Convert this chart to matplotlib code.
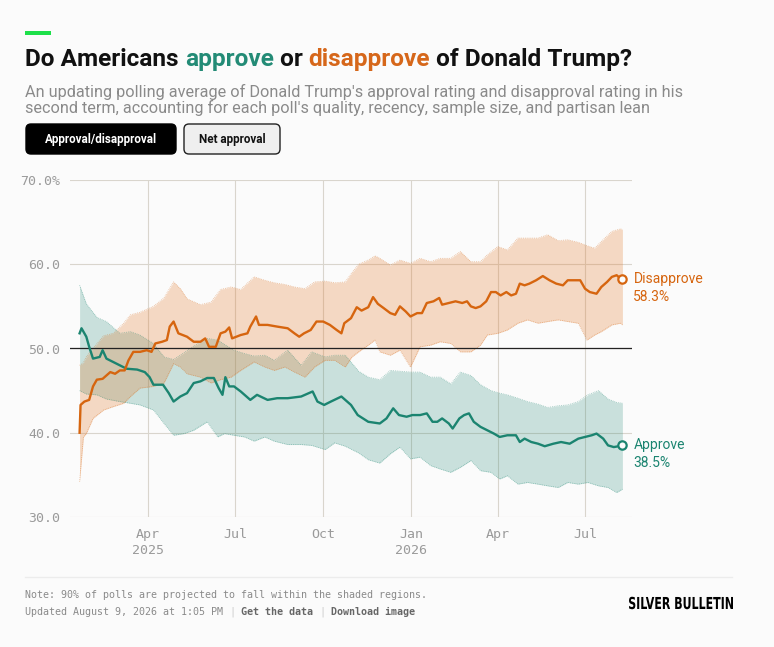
import matplotlib
matplotlib.use('Agg')
import matplotlib.pyplot as plt
from matplotlib.patches import FancyBboxPatch, PathPatch
from matplotlib.textpath import TextPath
from matplotlib.font_manager import FontProperties
from matplotlib.transforms import Affine2D
import pandas as pd

# ---- data (days since 2025-01-20) ----
start = pd.Timestamp('2025-01-20')

approve_days = [0, 2, 7, 10, 14, 21, 24, 28, 35, 42, 49, 60, 68, 73, 77, 87, 93, 98, 105, 112,
                119, 126, 133, 140, 145, 149, 152, 156, 161, 168, 178, 185, 196, 206, 217, 231,
                243, 248, 255, 262, 273, 283, 290, 301, 313, 320, 327, 333, 341, 347, 355, 362,
                368, 373, 378, 385, 389, 396, 401, 406, 411, 418, 425, 432, 438, 446, 455, 459,
                464, 471, 478, 485, 494, 502, 511, 520, 527, 534, 539, 546, 551, 557, 562, 566]
approve = [51.8, 52.4, 51.4, 50.2, 48.8, 49.0, 49.8, 48.8, 48.4, 48.0, 47.6, 47.5, 47.2, 46.6,
           45.7, 45.7, 44.7, 43.7, 44.3, 44.7, 45.9, 46.1, 46.5, 46.5, 45.3, 44.5, 46.6, 45.5,
           45.5, 44.9, 43.9, 44.5, 43.9, 44.1, 44.1, 44.3, 44.9, 43.7, 43.3, 43.7, 44.3, 43.3,
           42.1, 41.3, 41.1, 41.7, 42.9, 42.1, 41.9, 42.1, 42.1, 42.3, 41.3, 41.3, 41.7, 41.1,
           40.5, 41.7, 42.1, 42.3, 41.3, 40.7, 40.3, 39.9, 39.5, 39.7, 39.7, 38.9, 39.3, 38.9,
           38.7, 38.4, 38.7, 38.9, 38.7, 39.3, 39.5, 39.7, 39.9, 39.3, 38.5, 38.3, 38.4, 38.5]

disapprove_days = [0, 1, 5, 10, 14, 18, 24, 32, 37, 42, 47, 51, 56, 63, 70, 75, 79, 86, 91, 94,
                   98, 103, 112, 119, 126, 131, 135, 142, 147, 152, 156, 159, 168, 175, 178, 184,
                   187, 196, 206, 217, 224, 229, 234, 241, 247, 254, 261, 268, 273, 276, 283, 289,
                   294, 301, 306, 311, 317, 324, 329, 334, 340, 345, 352, 357, 362, 369, 375, 378,
                   385, 392, 399, 404, 408, 413, 418, 424, 429, 434, 439, 445, 450, 455, 459, 464,
                   469, 476, 483, 490, 497, 504, 509, 516, 522, 527, 532, 539, 544, 550, 555, 560,
                   564, 566]
disapprove = [40.0, 43.3, 43.7, 43.9, 45.5, 46.3, 46.4, 47.2, 47.0, 47.4, 47.4, 48.6, 49.6, 49.6,
              49.8, 49.6, 50.6, 50.8, 51.0, 52.6, 53.2, 51.8, 51.4, 50.8, 50.8, 51.2, 50.2, 50.2,
              51.8, 52.0, 52.5, 51.2, 51.6, 51.8, 52.6, 53.8, 52.8, 52.8, 52.6, 52.4, 51.8, 51.4,
              51.8, 52.2, 53.2, 53.2, 52.8, 52.2, 51.8, 53.0, 53.6, 54.9, 54.5, 54.9, 56.1, 55.3,
              54.8, 54.2, 54.0, 55.0, 54.4, 53.8, 54.2, 54.2, 55.4, 55.6, 56.0, 55.2, 55.4, 55.6,
              55.4, 55.6, 55.0, 54.8, 55.0, 55.6, 56.7, 56.7, 56.3, 56.7, 56.3, 56.5, 57.7, 57.5,
              57.7, 58.1, 58.6, 58.1, 57.7, 57.5, 58.1, 58.1, 58.1, 57.1, 56.7, 56.5, 57.3, 57.9,
              58.5, 58.7, 58.3, 58.3]

# 90% ranges
approve_band_days = [0, 7, 18, 28, 42, 53, 63, 77, 88, 98, 109, 119, 133, 144, 151, 161, 172, 182,
                     193, 203, 217, 231, 242, 256, 266, 277, 291, 301, 313, 324, 334, 345, 355, 366,
                     376, 387, 397, 408, 418, 429, 438, 446, 457, 467, 478, 488, 499, 509, 520, 530,
                     541, 551, 560, 566]
approve_hi = [57.5, 55.3, 53.7, 53.2, 51.8, 52.0, 51.6, 50.6, 49.0, 48.7, 49.5, 50.3, 51.2, 51.0,
              50.5, 49.8, 49.4, 49.1, 49.2, 48.6, 49.8, 48.0, 49.6, 49.0, 49.2, 49.2, 47.3, 46.6,
              46.3, 47.4, 47.3, 47.2, 47.2, 46.6, 46.6, 45.8, 47.2, 46.8, 45.7, 45.0, 44.7, 44.5,
              44.1, 43.7, 43.4, 43.0, 43.2, 43.3, 43.7, 44.5, 45.0, 44.0, 43.6, 43.5]
approve_lo = [45.0, 44.6, 44.5, 44.0, 43.7, 43.5, 43.3, 42.7, 41.1, 39.7, 39.9, 40.3, 41.3, 39.5,
              39.9, 39.7, 39.5, 39.0, 39.5, 39.0, 38.6, 38.6, 38.5, 38.0, 38.8, 38.4, 37.6, 36.8,
              36.4, 37.5, 38.3, 36.9, 37.1, 36.1, 35.7, 35.3, 35.9, 36.7, 35.5, 35.3, 34.5, 34.9,
              33.9, 34.1, 33.9, 33.7, 33.5, 34.1, 33.9, 34.1, 33.7, 33.5, 32.9, 33.3]

disapprove_band_days = [0, 4, 7, 14, 25, 35, 46, 53, 63, 77, 88, 98, 105, 112, 126, 137, 147, 158,
                        168, 182, 193, 203, 214, 224, 235, 245, 256, 266, 277, 284, 291, 301, 308,
                        313, 324, 334, 345, 355, 366, 376, 387, 397, 408, 418, 425, 436, 446, 457,
                        467, 478, 488, 499, 509, 520, 529, 537, 544, 555, 564, 566]
disapprove_hi = [48.0, 48.3, 49.0, 50.0, 51.5, 51.8, 53.0, 54.0, 54.3, 55.0, 56.0, 57.9, 57.1, 55.9,
                 55.2, 55.5, 57.0, 57.3, 57.0, 58.5, 58.1, 57.8, 57.6, 57.3, 57.1, 57.9, 58.0, 57.8,
                 57.9, 59.0, 60.0, 60.5, 61.0, 60.7, 59.9, 60.5, 60.1, 60.7, 60.3, 60.7, 60.7, 61.5,
                 60.3, 60.3, 61.1, 62.1, 61.7, 63.1, 63.1, 63.1, 63.5, 62.8, 62.9, 62.6, 62.2, 61.9,
                 62.7, 63.9, 64.2, 64.1]
disapprove_lo = [34.2, 39.5, 39.9, 41.7, 42.7, 43.1, 43.5, 44.3, 45.3, 45.5, 45.9, 48.2, 47.8, 47.0,
                 46.6, 45.9, 46.3, 46.6, 47.4, 48.4, 47.8, 47.4, 47.8, 47.2, 46.6, 47.8, 48.6, 48.6,
                 47.8, 49.0, 49.6, 50.4, 51.0, 49.6, 49.2, 49.8, 47.8, 50.2, 50.4, 50.8, 50.6, 49.6,
                 49.6, 50.4, 51.6, 51.8, 52.2, 53.0, 53.4, 53.0, 53.2, 53.4, 53.2, 53.0, 51.0, 51.6,
                 52.0, 52.8, 53.0, 52.8]

tick_dates = ['2025-04-01', '2025-07-01', '2025-10-01', '2026-01-01', '2026-04-01', '2026-07-01']
tick_labels = ['Apr\n2025', 'Jul', 'Oct', 'Jan\n2026', 'Apr', 'Jul']
y_ticks = [30, 40, 50, 60, 70]
y_labels = ['30.0', '40.0', '50.0', '60.0', '70.0%']


def to_dates(days):
    return start + pd.to_timedelta(days, unit='D')


BG = '#fbfbfb'
TEAL = '#1b8470'
ORANGE = '#d6650f'
GRID = '#d9d5cd'
MONO = 'DejaVu Sans Mono'
SANS = 'Roboto'

fig = plt.figure(figsize=(7.74, 6.47), dpi=100, facecolor=BG)

# overlay in pixel coordinates for header / footer
ov = fig.add_axes([0, 0, 1, 1])
ov.set_xlim(0, 774)
ov.set_ylim(647, 0)
ov.axis('off')
ov.patch.set_alpha(0)

ax = fig.add_axes([70 / 774, 1 - 517 / 647, 562 / 774, 337 / 647])
ax.set_facecolor(BG)

# bands
ad = to_dates(approve_band_days)
dd = to_dates(disapprove_band_days)
ax.fill_between(ad, approve_lo, approve_hi, color=TEAL, alpha=0.22, lw=0, zorder=1)
ax.fill_between(dd, disapprove_lo, disapprove_hi, color='#e27a2c', alpha=0.27, lw=0, zorder=1)
for d, arr, c in [(ad, approve_hi, TEAL), (ad, approve_lo, TEAL),
                  (dd, disapprove_hi, ORANGE), (dd, disapprove_lo, ORANGE)]:
    ax.plot(d, arr, color=c, lw=0.6, ls=(0, (1, 1.2)), alpha=0.45, zorder=2)

ax.axhline(50, color='#222222', lw=0.9, zorder=3)

# lines
ax.plot(to_dates(approve_days), approve, color=TEAL, lw=1.7, zorder=4)
ax.plot(to_dates(disapprove_days), disapprove, color=ORANGE, lw=1.7, zorder=4)

end_a = to_dates([approve_days[-1]])[0]
end_d = to_dates([disapprove_days[-1]])[0]
ax.plot([end_a], [approve[-1]], 'o', ms=6, mfc=BG, mec=TEAL, mew=1.6, zorder=5, clip_on=False)
ax.plot([end_d], [disapprove[-1]], 'o', ms=6, mfc=BG, mec=ORANGE, mew=1.6, zorder=5, clip_on=False)

for end, val, name, c in [(end_d, disapprove[-1], 'Disapprove', ORANGE),
                          (end_a, approve[-1], 'Approve', TEAL)]:
    ax.annotate(name, xy=(end, val), xytext=(11, 0), textcoords='offset pixels',
                ha='left', va='center', color=c, fontsize=10, family=SANS, annotation_clip=False)
    ax.annotate(f'{val:.1f}%', xy=(end, val), xytext=(11, -18), textcoords='offset pixels',
                ha='left', va='center', color=c, fontsize=10, family=SANS, annotation_clip=False)

# axes styling
ax.set_xlim(pd.Timestamp('2025-01-10'), pd.Timestamp('2026-08-19'))
ax.set_ylim(30, 70)
ax.set_xticks(pd.to_datetime(tick_dates))
ax.set_xticklabels(tick_labels, family=MONO, fontsize=9.5, color='#9a9a9a', linespacing=1.3)
ax.set_yticks(y_ticks)
ax.set_yticklabels(y_labels, family=MONO, fontsize=9.5, color='#9a9a9a')
ax.tick_params(length=0, pad=7)
ax.tick_params(axis='x', pad=8)
ax.grid(True, color=GRID, lw=0.8, zorder=0)
ax.set_axisbelow(True)
for s in ax.spines.values():
    s.set_visible(False)

# header
ov.add_patch(plt.Rectangle((25, 31), 26, 4, color='#1ee04a', lw=0))
renderer = fig.canvas.get_renderer()
x = 25
title_parts = [('Do Americans ', '#111111'), ('approve', '#238b76'), (' or ', '#111111'),
               ('disapprove', '#d6671a'), (' of Donald Trump?', '#111111')]
for s, c in title_parts:
    t = ov.text(x, 66, s, color=c, fontsize=17.6, fontweight='bold', family=SANS, va='baseline')
    x += t.get_window_extent(renderer).width

sub1 = "An updating polling average of Donald Trump's approval rating and disapproval rating in his"
sub2 = "second term, accounting for each poll's quality, recency, sample size, and partisan lean"
ov.text(25, 97, sub1, color='#8a8a8a', fontsize=11.7, family=SANS, va='baseline')
ov.text(25, 113, sub2, color='#8a8a8a', fontsize=11.7, family=SANS, va='baseline')

ov.add_patch(FancyBboxPatch((26, 124), 150, 30, boxstyle='round,pad=0,rounding_size=5',
                            fc='#000000', ec='#000000', lw=1))
ov.text(101, 139.5, 'Approval/disapproval', color='white', fontsize=8.4, fontweight='bold',
        family=SANS, ha='center', va='center')
ov.add_patch(FancyBboxPatch((184, 124), 96, 30, boxstyle='round,pad=0,rounding_size=5',
                            fc='#efefef', ec='#222222', lw=1))
ov.text(232, 139.5, 'Net approval', color='#111111', fontsize=8.4, fontweight='bold',
        family=SANS, ha='center', va='center')

# footer
ov.plot([25, 732], [577, 577], color='#ececec', lw=1)
ov.text(25, 595, 'Note: 90% of polls are projected to fall within the shaded regions.',
        family=MONO, fontsize=7.2, color='#8a8a8a', va='center')
x = 25
foot_parts = [('Updated August 9, 2026 at 1:05 PM ', '#8a8a8a', 'normal'), ('|', '#cccccc', 'normal'),
              (' Get the data ', '#666666', 'bold'), ('|', '#cccccc', 'normal'),
              (' Download image', '#666666', 'bold')]
for s, c, w in foot_parts:
    t = ov.text(x, 612, s, family=MONO, fontsize=7.2, color=c, fontweight=w, va='center')
    x += t.get_window_extent(renderer).width

# condensed wordmark: squeeze a bold text path horizontally
logo = TextPath((0, 0), 'SILVER BULLETIN', size=16.5,
                prop=FontProperties(family='DejaVu Sans', weight='bold'))
ext = logo.get_extents()
sx = 104 / ext.width
tr = Affine2D().translate(-ext.x0, 0).scale(sx, -1).translate(629, 609) + ov.transData
ov.add_patch(PathPatch(logo, fc='#000000', lw=0, transform=tr))

fig.savefig('out.png', dpi=100, facecolor=BG)
